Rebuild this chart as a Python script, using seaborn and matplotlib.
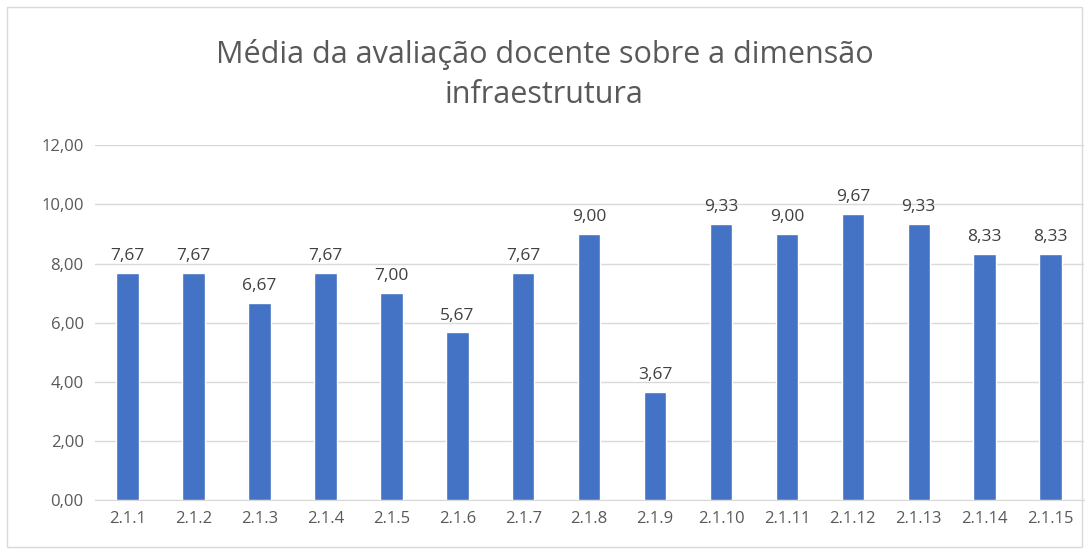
import matplotlib
matplotlib.use("Agg")
import matplotlib.pyplot as plt
import seaborn as sns
import pandas as pd

# data
itens = ["2.1.1", "2.1.2", "2.1.3", "2.1.4", "2.1.5", "2.1.6", "2.1.7", "2.1.8",
         "2.1.9", "2.1.10", "2.1.11", "2.1.12", "2.1.13", "2.1.14", "2.1.15"]
medias = [7.67, 7.67, 6.67, 7.67, 7.00, 5.67, 7.67, 9.00,
          3.67, 9.33, 9.00, 9.67, 9.33, 8.33, 8.33]
yticks = [0, 2, 4, 6, 8, 10, 12]

df = pd.DataFrame({"item": itens, "media": medias})

sns.set_style("white")
plt.rcParams["font.family"] = ["Open Sans", "DejaVu Sans"]

fig = plt.figure(figsize=(10.89, 5.54), dpi=100)
ax = fig.add_axes([0.087, 0.097, 0.908, 0.641])

sns.barplot(data=df, x="item", y="media", color="#4472C4", saturation=1,
            width=0.34, ax=ax, zorder=3)

ax.set_ylim(0, 12)
ax.set_yticks(yticks)
ax.set_yticklabels([f"{v:.2f}".replace(".", ",") for v in yticks])
ax.grid(axis="y", color="#D9D9D9", linewidth=1, zorder=0)
ax.set_xlabel("")
ax.set_ylabel("")
for s in ["top", "right", "left"]:
    ax.spines[s].set_visible(False)
ax.spines["bottom"].set_color("#D9D9D9")
ax.tick_params(axis="both", length=0, labelsize=12, colors="#595959", pad=8)

for i, v in enumerate(medias):
    ax.text(i, v + 0.3, f"{v:.2f}".replace(".", ","), ha="center", va="bottom",
            fontsize=12.5, color="#404040")

fig.text(0.5, 0.865, "Média da avaliação docente sobre a dimensão\ninfraestrutura",
         ha="center", va="center", fontsize=22, color="#595959", linespacing=1.45)

# light chart border like the spreadsheet frame
fig.patches.append(plt.Rectangle((0.006, 0.012), 0.988, 0.976, transform=fig.transFigure,
                                 fill=False, edgecolor="#D9D9D9", linewidth=1))

fig.savefig("out.png", dpi=100)
